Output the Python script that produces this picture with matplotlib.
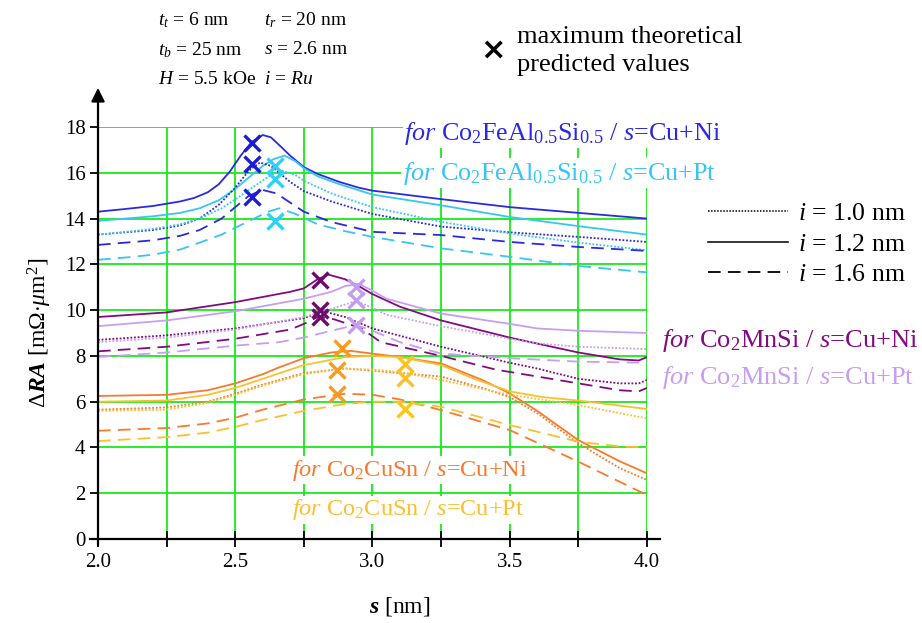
import matplotlib
matplotlib.use("Agg")
import matplotlib.pyplot as plt
from matplotlib.lines import Line2D

plt.rcParams['font.family'] = ['Liberation Serif', 'DejaVu Serif']
plt.rcParams['mathtext.fontset'] = 'custom'
plt.rcParams['mathtext.rm'] = 'Liberation Serif'
plt.rcParams['mathtext.it'] = 'Liberation Serif:italic'
plt.rcParams['mathtext.bf'] = 'Liberation Serif:bold:italic'

# ---- Co2FeAl0.5Si0.5 ----
s_fe_ni_12 = [2.0, 2.1, 2.2, 2.3, 2.35, 2.4, 2.44, 2.48, 2.52, 2.56, 2.6, 2.63, 2.67, 2.7, 2.75, 2.8, 2.88, 2.95, 3.0, 3.25, 3.5, 3.75, 4.0]
ra_fe_ni_12 = [14.3, 14.42, 14.55, 14.75, 14.9, 15.15, 15.5, 16.05, 16.75, 17.35, 17.65, 17.55, 17.1, 16.75, 16.25, 15.95, 15.6, 15.35, 15.22, 14.85, 14.5, 14.25, 14.0]
s_fe_pt_12 = [2.0, 2.1, 2.2, 2.3, 2.37, 2.44, 2.5, 2.55, 2.6, 2.64, 2.68, 2.72, 2.75, 2.8, 2.88, 3.0, 3.25, 3.5, 3.75, 4.0]
ra_fe_pt_12 = [13.9, 14.0, 14.1, 14.25, 14.45, 14.8, 15.3, 15.8, 16.3, 16.6, 16.75, 16.5, 16.2, 15.85, 15.5, 15.05, 14.58, 14.07, 13.67, 13.3]
s_fe_ni_10 = [2.0, 2.1, 2.2, 2.3, 2.37, 2.44, 2.5, 2.55, 2.59, 2.63, 2.7, 2.75, 2.85, 3.0, 3.25, 3.5, 3.75, 4.0]
ra_fe_ni_10 = [13.3, 13.4, 13.5, 13.7, 14.0, 14.6, 15.35, 16.1, 16.45, 16.3, 15.6, 15.2, 14.75, 14.2, 13.65, 13.4, 13.2, 12.98]
s_fe_pt_10 = [2.0, 2.1, 2.2, 2.3, 2.37, 2.45, 2.52, 2.58, 2.63, 2.67, 2.72, 2.75, 2.85, 3.0, 3.25, 3.5, 3.75, 4.0]
ra_fe_pt_10 = [13.3, 13.42, 13.55, 13.75, 14.0, 14.45, 15.0, 15.5, 15.9, 16.1, 15.9, 15.65, 15.1, 14.5, 13.86, 13.35, 12.95, 12.62]
s_fe_ni_16 = [2.0, 2.1, 2.2, 2.3, 2.37, 2.45, 2.5, 2.55, 2.6, 2.65, 2.7, 2.75, 2.85, 3.0, 3.25, 3.5, 3.75, 4.0]
ra_fe_ni_16 = [12.85, 12.95, 13.05, 13.25, 13.5, 14.0, 14.5, 15.0, 15.25, 15.1, 14.7, 14.3, 13.85, 13.42, 13.28, 12.98, 12.76, 12.59]
s_fe_pt_16 = [2.0, 2.1, 2.2, 2.3, 2.37, 2.45, 2.5, 2.56, 2.62, 2.66, 2.72, 2.8, 2.9, 3.0, 3.25, 3.5, 3.75, 4.0]
ra_fe_pt_16 = [12.2, 12.3, 12.42, 12.65, 12.95, 13.3, 13.6, 13.95, 14.3, 14.45, 14.2, 13.75, 13.45, 13.2, 12.7, 12.33, 11.93, 11.65]

# ---- Co2MnSi ----
s_mn_ni_12 = [2.0, 2.25, 2.5, 2.7, 2.75, 2.8, 2.84, 2.9, 2.95, 3.0, 3.1, 3.25, 3.5, 3.75, 3.9, 3.97, 4.0]
ra_mn_ni_12 = [9.7, 9.9, 10.35, 10.8, 10.95, 11.35, 11.55, 11.35, 11.05, 10.7, 10.15, 9.55, 8.8, 8.15, 7.85, 7.8, 7.95]
s_mn_pt_12 = [2.0, 2.25, 2.5, 2.66, 2.75, 2.85, 2.9, 2.95, 3.0, 3.05, 3.25, 3.5, 3.6, 3.75, 4.0]
ra_mn_pt_12 = [9.3, 9.55, 9.95, 10.3, 10.5, 10.8, 11.05, 11.15, 10.85, 10.5, 9.85, 9.4, 9.2, 9.1, 9.0]
s_mn_ni_10 = [2.0, 2.25, 2.5, 2.75, 2.82, 2.9, 3.0, 3.25, 3.5, 3.6, 3.75, 3.9, 3.97, 4.0]
ra_mn_ni_10 = [8.7, 8.9, 9.2, 9.65, 9.95, 9.7, 9.2, 8.4, 7.7, 7.45, 7.0, 6.8, 6.8, 6.95]
s_mn_pt_10 = [2.0, 2.25, 2.5, 2.75, 2.85, 2.94, 3.0, 3.05, 3.25, 3.5, 3.6, 3.75, 4.0]
ra_mn_pt_10 = [8.6, 8.8, 9.15, 9.7, 10.05, 10.4, 10.1, 9.8, 9.3, 8.75, 8.55, 8.4, 8.3]
s_mn_ni_16 = [2.0, 2.25, 2.5, 2.7, 2.76, 2.8, 2.86, 2.96, 3.03, 3.25, 3.45, 3.6, 3.75, 3.9, 3.97, 4.0]
ra_mn_ni_16 = [8.2, 8.4, 8.75, 9.15, 9.45, 9.7, 9.6, 9.2, 8.6, 8.0, 7.4, 7.1, 6.8, 6.5, 6.45, 6.6]
s_mn_pt_16 = [2.0, 2.25, 2.5, 2.66, 2.75, 2.85, 2.94, 3.0, 3.1, 3.25, 3.5, 3.75, 4.0]
ra_mn_pt_16 = [7.95, 8.15, 8.45, 8.6, 8.8, 9.1, 9.35, 9.1, 8.6, 8.1, 7.9, 7.75, 7.7]

# ---- Co2CuSn ----
s_cu_ni_12 = [2.0, 2.25, 2.4, 2.5, 2.6, 2.66, 2.75, 2.85, 2.92, 3.0, 3.1, 3.25, 3.4, 3.5, 3.6, 3.75, 3.9, 4.0]
ra_cu_ni_12 = [6.25, 6.3, 6.5, 6.8, 7.2, 7.5, 7.9, 8.15, 8.22, 8.1, 7.95, 7.67, 6.95, 6.36, 5.6, 4.32, 3.4, 2.87]
s_cu_pt_12 = [2.0, 2.25, 2.4, 2.5, 2.6, 2.75, 2.9, 3.0, 3.1, 3.25, 3.37, 3.5, 3.62, 3.75, 4.0]
ra_cu_pt_12 = [6.0, 6.05, 6.3, 6.6, 7.0, 7.6, 7.95, 8.0, 7.95, 7.6, 7.0, 6.45, 6.2, 6.05, 5.68]
s_cu_ni_10 = [2.0, 2.25, 2.4, 2.5, 2.6, 2.75, 2.9, 3.0, 3.1, 3.25, 3.4, 3.5, 3.6, 3.75, 3.9, 4.0]
ra_cu_ni_10 = [5.65, 5.75, 6.0, 6.35, 6.75, 7.25, 7.45, 7.35, 7.25, 7.1, 6.6, 6.2, 5.5, 4.18, 3.1, 2.58]
s_cu_pt_10 = [2.0, 2.25, 2.4, 2.5, 2.6, 2.75, 2.9, 3.0, 3.1, 3.25, 3.5, 3.75, 4.0]
ra_cu_pt_10 = [5.6, 5.65, 5.95, 6.3, 6.7, 7.2, 7.45, 7.4, 7.3, 6.95, 6.3, 5.85, 5.27]
s_cu_ni_16 = [2.0, 2.25, 2.4, 2.5, 2.6, 2.75, 2.9, 3.0, 3.1, 3.25, 3.5, 3.75, 4.0]
ra_cu_ni_16 = [4.73, 4.85, 5.05, 5.3, 5.65, 6.1, 6.35, 6.3, 6.1, 5.63, 4.76, 3.38, 1.92]
s_cu_pt_16 = [2.0, 2.25, 2.4, 2.5, 2.6, 2.75, 2.9, 3.0, 3.1, 3.25, 3.5, 3.75, 3.9, 4.0]
ra_cu_pt_16 = [4.28, 4.45, 4.65, 4.9, 5.2, 5.6, 5.9, 6.0, 6.0, 5.78, 4.98, 4.25, 4.05, 4.0]

# maximum theoretical predicted values (x markers)
mx_s_fe_ni = [2.56, 2.56, 2.56]
mx_ra_fe_ni = [17.3, 16.4, 14.95]
mx_s_fe_pt = [2.645, 2.645, 2.645]
mx_ra_fe_pt = [16.3, 15.75, 13.9]
mx_s_mn_ni = [2.81, 2.81, 2.81]
mx_ra_mn_ni = [11.3, 10.0, 9.7]
mx_s_mn_pt = [2.94, 2.94, 2.94]
mx_ra_mn_pt = [11.0, 10.45, 9.35]
mx_s_cu_ni = [2.89, 2.87, 2.87]
mx_ra_cu_ni = [8.33, 7.4, 6.35]
mx_s_cu_pt = [3.12, 3.12, 3.12]
mx_ra_cu_pt = [7.65, 7.05, 5.7]

c_fe_ni, c_fe_pt = '#2a2ae0', '#36c6f6'
c_mn_ni, c_mn_pt = '#820a82', '#c79ef2'
c_cu_ni, c_cu_pt = '#f97a2c', '#fdbf30'

dot = (0, (1, 1))
dash = (0, (7, 4))

fig = plt.figure(figsize=(9.22, 6.23), dpi=100)
ax = fig.add_axes([0.1063, 0.1348, 0.5954, 0.6613])

series = [
    (s_fe_ni_12, ra_fe_ni_12, c_fe_ni, '-'), (s_fe_pt_12, ra_fe_pt_12, c_fe_pt, '-'),
    (s_fe_ni_10, ra_fe_ni_10, c_fe_ni, dot), (s_fe_pt_10, ra_fe_pt_10, c_fe_pt, dot),
    (s_fe_ni_16, ra_fe_ni_16, c_fe_ni, dash), (s_fe_pt_16, ra_fe_pt_16, c_fe_pt, dash),
    (s_mn_ni_12, ra_mn_ni_12, c_mn_ni, '-'), (s_mn_pt_12, ra_mn_pt_12, c_mn_pt, '-'),
    (s_mn_ni_10, ra_mn_ni_10, c_mn_ni, dot), (s_mn_pt_10, ra_mn_pt_10, c_mn_pt, dot),
    (s_mn_ni_16, ra_mn_ni_16, c_mn_ni, dash), (s_mn_pt_16, ra_mn_pt_16, c_mn_pt, dash),
    (s_cu_ni_12, ra_cu_ni_12, c_cu_ni, '-'), (s_cu_pt_12, ra_cu_pt_12, c_cu_pt, '-'),
    (s_cu_ni_10, ra_cu_ni_10, c_cu_ni, dot), (s_cu_pt_10, ra_cu_pt_10, c_cu_pt, dot),
    (s_cu_ni_16, ra_cu_ni_16, c_cu_ni, dash), (s_cu_pt_16, ra_cu_pt_16, c_cu_pt, dash),
]
for xs, ys, col, ls in series:
    ax.plot(xs, ys, color=col, ls=ls, lw=1.3, zorder=3)

marks = [
    (mx_s_fe_ni, mx_ra_fe_ni, '#1c1cd8'), (mx_s_fe_pt, mx_ra_fe_pt, '#2ed0fa'),
    (mx_s_mn_ni, mx_ra_mn_ni, '#6e0a6e'), (mx_s_mn_pt, mx_ra_mn_pt, '#c49cf0'),
    (mx_s_cu_ni, mx_ra_cu_ni, '#fb9a1c'), (mx_s_cu_pt, mx_ra_cu_pt, '#fdc21c'),
]
for xs, ys, col in marks:
    ax.plot(xs, ys, ls='none', marker='x', ms=11, mew=2.4, color=col, zorder=4)

ax.set_xlim(2.0, 4.0)
ax.set_ylim(0, 18)
ax.set_xticks([2.0, 2.5, 3.0, 3.5, 4.0])
ax.set_xticklabels(['2.0', '2.5', '3.0', '3.5', '4.0'])
ax.set_xticks([2.25, 2.75, 3.25, 3.75], minor=True)
ax.set_yticks(range(0, 19, 2))
ax.tick_params(axis='x', which='both', direction='inout', length=12, width=1.3, labelsize=15, pad=4)
ax.tick_params(axis='y', direction='out', length=6, width=1.3, labelsize=15, pad=3)
ax.grid(which='both', color='#18ec18', lw=1.3, zorder=1)
ax.set_axisbelow(True)
for sp in ax.spines.values():
    sp.set_visible(False)

# axis lines, y with arrow
ax.plot([-0.015, 1.024], [0, 0], transform=ax.transAxes, color='k', lw=1.6, clip_on=False)
ax.annotate('', xy=(0, 1.095), xytext=(0, -0.015), xycoords='axes fraction',
            arrowprops=dict(arrowstyle='-|>', color='k', lw=1.6, mutation_scale=20, shrinkA=0, shrinkB=0))

ax.set_ylabel(r'$\Delta\mathbf{RA}$ [m$\Omega$$\cdot$$\mu$m$^2$]', fontsize=17, labelpad=8)
ax.set_xlabel(r'$\mathbf{s}$ [nm]', fontsize=17)
ax.xaxis.set_label_coords(0.55, -0.135)

bb = dict(facecolor='white', edgecolor='none', pad=1)
ax.text(3.115, 17.73, r'$\mathit{for}$ Co$_2$FeAl$_{0.5}$Si$_{0.5}$ / $s$=Cu+Ni', color=c_fe_ni, fontsize=18.8, va='center', bbox=bb, zorder=5)
ax.text(3.11, 15.98, r'$\mathit{for}$ Co$_2$FeAl$_{0.5}$Si$_{0.5}$ / $s$=Cu+Pt', color=c_fe_pt, fontsize=18.8, va='center', bbox=bb, zorder=5)
ax.text(4.055, 8.69, r'$\mathit{for}$ Co$_2$MnSi / $s$=Cu+Ni', color=c_mn_ni, fontsize=19, va='center', bbox=bb, zorder=5)
ax.text(4.055, 7.07, r'$\mathit{for}$ Co$_2$MnSi / $s$=Cu+Pt', color=c_mn_pt, fontsize=19, va='center', bbox=bb, zorder=5)
ax.text(2.707, 3.01, r'$\mathit{for}$ Co$_2$CuSn / $s$=Cu+Ni', color=c_cu_ni, fontsize=17.5, va='center', bbox=bb, zorder=5)
ax.text(2.707, 1.27, r'$\mathit{for}$ Co$_2$CuSn / $s$=Cu+Pt', color=c_cu_pt, fontsize=17.5, va='center', bbox=bb, zorder=5)

# legend for line styles
hs = [Line2D([], [], color='k', ls=dot, lw=1.1),
      Line2D([], [], color='k', ls='-', lw=1.1),
      Line2D([], [], color='k', ls=dash, lw=1.3)]
ax.legend(hs, [r'$i$ = 1.0 nm', r'$i$ = 1.2 nm', r'$i$ = 1.6 nm'], loc='upper left',
          bbox_to_anchor=(1.111, 0.818), frameon=False, fontsize=18.5, handlelength=3.1,
          handletextpad=0.4, labelspacing=0.3, borderaxespad=0, borderpad=0)

# parameter block and marker legend
fs = 14
fig.text(158 / 922, 1 - 20 / 623, r'$t_t$ = 6 nm', fontsize=fs, va='center')
fig.text(264 / 922, 1 - 20 / 623, r'$t_r$ = 20 nm', fontsize=fs, va='center')
fig.text(158 / 922, 1 - 50 / 623, r'$t_b$ = 25 nm', fontsize=fs, va='center')
fig.text(264 / 922, 1 - 50 / 623, r'$s$ = 2.6 nm', fontsize=fs, va='center')
fig.text(158 / 922, 1 - 80 / 623, r'$H$ = 5.5 kOe', fontsize=fs, va='center')
fig.text(264 / 922, 1 - 80 / 623, r'$i$ = $Ru$', fontsize=fs, va='center')
fig.text(493 / 922, 1 - 50 / 623, '\u00d7', fontsize=22, fontweight='bold', ha='center', va='center',
         family='DejaVu Sans')
fig.text(517 / 922, 1 - 37 / 623, 'maximum theoretical', fontsize=19, va='center')
fig.text(517 / 922, 1 - 65 / 623, 'predicted values', fontsize=19, va='center')

fig.savefig('out.png', dpi=100)
